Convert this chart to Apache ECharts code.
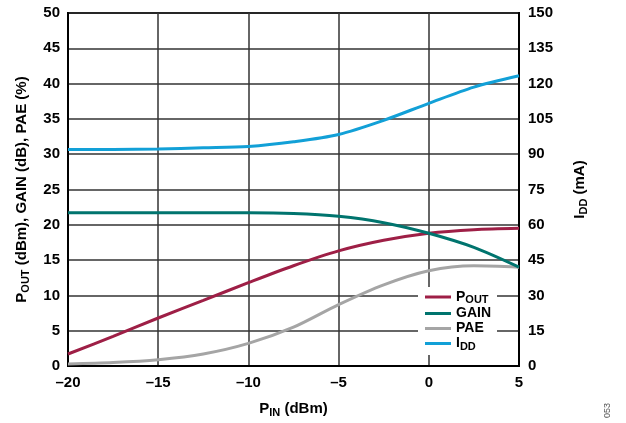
<!DOCTYPE html>
<html><head><meta charset="utf-8">
<script src="https://cdn.jsdelivr.net/npm/echarts@6/dist/echarts.min.js"></script>
<style>html,body{margin:0;padding:0;background:#fff}#c{width:626px;height:423px}</style>
</head><body><div id="c"></div>
<script>
const pin = [-20, -17.5, -15, -12.5, -10, -7.5, -5, -2.5, 0, 2.5, 5];
const pout = [1.7, 4.2, 6.8, 9.3, 11.8, 14.2, 16.3, 17.8, 18.8, 19.3, 19.5];
const gain = [21.7, 21.7, 21.7, 21.7, 21.7, 21.6, 21.2, 20.3, 18.8, 16.8, 14.0];
const pae = [0.3, 0.5, 0.9, 1.7, 3.2, 5.5, 8.7, 11.5, 13.5, 14.2, 14.0];
const idd = [92, 92, 92.2, 92.7, 93.3, 95.3, 98.4, 104.4, 111.6, 118.5, 123.3];
const names = ['P_OUT', 'GAIN', 'PAE', 'I_DD'];
const colors = ['#9E1F46', '#00746E', '#A5A5A5', '#12A0D7'];

const FONT = '"Liberation Sans", Arial, sans-serif';
const rich = {
  a: {fontFamily: FONT, fontWeight: 'bold', fontSize: 15, color: '#000'},
  s: {fontFamily: FONT, fontWeight: 'bold', fontSize: 11, color: '#000', padding: [7, 0, 0, 0]}
};
const richL = {
  a: {fontFamily: FONT, fontWeight: 'bold', fontSize: 14, color: '#000'},
  s: {fontFamily: FONT, fontWeight: 'bold', fontSize: 11, color: '#000', padding: [6, 0, 0, 0]}
};
function pair(arr){ return pin.map((x,i)=>[x, arr[i]]); }
function fmtNum(v){ return v < 0 ? '\u2013' + Math.abs(v) : String(v); }

const chart = echarts.init(document.getElementById('c'), null, {renderer: 'canvas'});
const gridLine = {show: true, lineStyle: {color: '#333', width: 1.5}};
const lab = {fontFamily: FONT, fontWeight: 'bold', fontSize: 15, color: '#000'};
chart.setOption({
  animation: false,
  backgroundColor: '#fff',
  grid: {left: 68, right: 107, top: 13, bottom: 51, show: true, borderColor: '#000', borderWidth: 2, containLabel: false},
  xAxis: {
    type: 'value', min: -20, max: 5, interval: 5,
    axisLine: {show: true, onZero: false, lineStyle: {color: '#000', width: 2}},
    axisTick: {show: false},
    splitLine: gridLine,
    axisLabel: Object.assign({margin: 9, formatter: fmtNum}, lab),
    name: '{a|P}{s|IN}{a| (dBm)}', nameLocation: 'middle', nameGap: 34,
    nameTextStyle: {rich: rich}
  },
  yAxis: [{
    type: 'value', min: 0, max: 50, interval: 5,
    axisLine: {show: true, onZero: false, lineStyle: {color: '#000', width: 2}},
    axisTick: {show: false},
    splitLine: gridLine,
    axisLabel: Object.assign({margin: 8}, lab),
    name: '{a|P}{s|OUT}{a| (dBm), GAIN (dB), PAE (%)}', nameLocation: 'middle', nameGap: 37, nameRotate: 90,
    nameTextStyle: {rich: rich}
  }, {
    type: 'value', min: 0, max: 150, interval: 15, position: 'right',
    axisLine: {show: true, onZero: false, lineStyle: {color: '#000', width: 2}},
    axisTick: {show: false},
    splitLine: {show: false},
    axisLabel: Object.assign({margin: 9}, lab),
    name: '{a|I}{s|DD}{a| (mA)}', nameLocation: 'middle', nameGap: 52, nameRotate: 90,
    nameTextStyle: {rich: rich}
  }],
  legend: {
    orient: 'vertical', left: 418, top: 287, itemGap: 1,
    backgroundColor: '#fff', padding: [3, 6, 3, 7],
    icon: 'rect', itemWidth: 26, itemHeight: 3,
    data: names,
    formatter: function(n){
      if (n === 'P_OUT') return '{a|P}{s|OUT}';
      if (n === 'I_DD') return '{a|I}{s|DD}';
      return '{a|' + n + '}';
    },
    textStyle: {rich: richL, fontFamily: FONT, fontWeight: 'bold', fontSize: 14}
  },
  graphic: [{
    type: 'text', x: 603, y: 418, rotation: Math.PI/2,
    style: {text: '053', fontFamily: FONT, fontSize: 9, fill: '#555'}
  }],
  series: [
    {name: 'P_OUT', type: 'line', data: pair(pout), smooth: 0.3, showSymbol: false, lineStyle: {width: 3, color: colors[0]}, itemStyle: {color: colors[0]}, z: 3},
    {name: 'GAIN', type: 'line', data: pair(gain), smooth: 0.3, showSymbol: false, lineStyle: {width: 3, color: colors[1]}, itemStyle: {color: colors[1]}, z: 3},
    {name: 'PAE', type: 'line', data: pair(pae), smooth: 0.3, showSymbol: false, lineStyle: {width: 3, color: colors[2]}, itemStyle: {color: colors[2]}, z: 2},
    {name: 'I_DD', type: 'line', yAxisIndex: 1, data: pair(idd), smooth: 0.3, showSymbol: false, lineStyle: {width: 3, color: colors[3]}, itemStyle: {color: colors[3]}, z: 3}
  ]
});
</script></body></html>
